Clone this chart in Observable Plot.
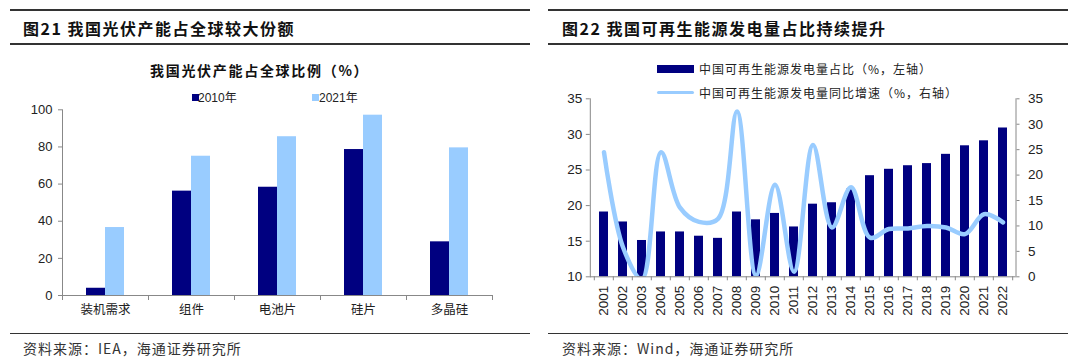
<!DOCTYPE html>
<html><head><meta charset="utf-8">
<script src="https://cdn.jsdelivr.net/npm/d3@7"></script>
<script src="https://cdn.jsdelivr.net/npm/@observablehq/plot@0.6"></script>
<style>
html,body{margin:0;padding:0;background:#fff;}
#root{position:relative;width:1080px;height:364px;overflow:hidden;background:#fff;font-family:"Noto Sans CJK SC","Liberation Sans",sans-serif;color:#222;}
.a{position:absolute;white-space:nowrap;line-height:1;}
.rule{position:absolute;height:1.5px;background:#333;}
.ttl{font-size:16px;font-weight:bold;letter-spacing:1.5px;color:#111;}
.sub{font-size:14px;font-weight:bold;letter-spacing:1.7px;color:#111;}
.src{font-size:14px;letter-spacing:1px;color:#333;}
.lg{font-size:12px;color:#222;}
.box{position:absolute;}
</style></head><body><div id="root"></div>
<script>
// ---- Left chart data ----
const categories = ["装机需求", "组件", "电池片", "硅片", "多晶硅"];
const seriesNames = ["2010年", "2021年"];
const share2010 = [3.9, 56.2, 58.3, 78.6, 28.9];
const share2021 = [36.6, 75.0, 85.5, 97.1, 79.5];
const leftTicks = [0, 20, 40, 60, 80, 100];

// ---- Right chart data ----
const years = ["2001","2002","2003","2004","2005","2006","2007","2008","2009","2010","2011",
               "2012","2013","2014","2015","2016","2017","2018","2019","2020","2021","2022"];
const renewShare = [19.1, 17.7, 15.1, 16.3, 16.3, 15.7, 15.4, 19.1, 18.0, 18.9, 17.0,
                    20.2, 20.4, 22.3, 24.2, 25.1, 25.6, 25.9, 27.2, 28.4, 29.1, 30.9];
const renewGrowth = [24.5, 5.8, -0.5, 24.5, 13.6, 10.8, 11.4, 32.5, 0.3, 18.1, 1.0,
                     25.9, 9.7, 17.6, 7.7, 9.4, 9.5, 10.0, 9.7, 8.4, 12.3, 10.7];
const shareTicks = [10, 15, 20, 25, 30, 35];
const growthTicks = [0, 5, 10, 15, 20, 25, 30, 35];

const NAVY = "#000080", LIGHT = "#99CCFF", AXIS = "#888";
const root = document.getElementById("root");

function add(html, cls, left, top, extra) {
  const d = document.createElement("div");
  d.className = cls;
  d.style.left = left + "px";
  d.style.top = top + "px";
  if (extra) Object.assign(d.style, extra);
  d.innerHTML = html;
  root.appendChild(d);
  return d;
}

// ---- Left panel HTML texts ----
add("", "rule", 10, 9, {width: "520px"});
add("图21 我国光伏产能占全球较大份额", "a ttl", 23, 20);
add("", "rule", 10, 43, {width: "520px"});
add("我国光伏产能占全球比例（%）", "a sub", 150, 63);
add("", "box", 191.7, 94.3, {width: "7px", height: "7px", background: NAVY});
add("2010年", "a lg", 198, 91.7, {fontFamily: "Liberation Sans, Noto Sans CJK SC"});
add("", "box", 311.7, 94.3, {width: "7px", height: "7px", background: LIGHT});
add("2021年", "a lg", 319, 91.7, {fontFamily: "Liberation Sans, Noto Sans CJK SC"});
add("", "rule", 10, 332.5, {width: "520px"});
add("资料来源：IEA，海通证券研究所", "a src", 23, 341);

// ---- Right panel HTML texts ----
add("", "rule", 548, 9, {width: "520px"});
add("图22 我国可再生能源发电量占比持续提升", "a ttl", 562, 20);
add("", "rule", 548, 43, {width: "520px"});
add("", "box", 656.7, 65, {width: "37.6px", height: "7.7px", background: NAVY});
add("中国可再生能源发电量占比（%，左轴）", "a lg", 699, 62.5, {letterSpacing: "1px"});
add("", "box", 656.7, 90.7, {width: "37.6px", height: "3.6px", background: LIGHT, borderRadius: "2px"});
add("中国可再生能源发电量同比增速（%，右轴）", "a lg", 699, 86.5, {letterSpacing: "1px"});
add("", "rule", 548, 332.5, {width: "520px"});
add("资料来源：Wind，海通证券研究所", "a src", 562, 341);

const baseStyle = {fontFamily: "Liberation Sans, Noto Sans CJK SC", fontSize: "13px", color: "#222", background: "transparent", overflow: "visible"};

// ---- Left plot ----
const rows = categories.flatMap((c, i) => [
  {cat: c, series: seriesNames[0], value: share2010[i]},
  {cat: c, series: seriesNames[1], value: share2021[i]}
]);
const W1 = 540, H1 = 230, mt1 = 9.3, mb1 = 35, ml1 = 60, mr1 = 47;
const fh1 = H1 - mt1 - mb1;
const p1 = Plot.plot({
  width: W1, height: H1, marginTop: mt1, marginBottom: mb1, marginLeft: ml1, marginRight: mr1,
  style: baseStyle,
  fx: {domain: categories, padding: 0},
  x: {domain: seriesNames, paddingInner: 0, paddingOuter: 1.165, axis: null},
  y: {domain: [0, 100], axis: null},
  color: {domain: seriesNames, range: [NAVY, LIGHT]},
  marks: [
    Plot.barY(rows, {fx: "cat", x: "series", y: "value", fill: "series"}),
    Plot.ruleY([0], {stroke: AXIS}),
    Plot.frame({anchor: "left", stroke: AXIS, insetTop: fh1, insetBottom: -4}),
    Plot.frame({anchor: "right", stroke: AXIS, insetTop: fh1, insetBottom: -4}),
    Plot.frame({anchor: "left", stroke: AXIS, facetAnchor: "left"}),
    Plot.axisY({ticks: leftTicks, tickSize: 4, tickPadding: 6, stroke: AXIS, fill: "#222", fontSize: 13, label: null}),
    Plot.axisFx({anchor: "bottom", tickSize: 0, tickPadding: 10, label: null, fontFamily: "Noto Sans CJK SC", fontSize: 12.5, fill: "#222"})
  ]
});
const b1 = add("", "box", 0, 100);
b1.appendChild(p1);

// ---- Right plot ----
const W2 = 540, H2 = 240, mt2 = 8.3, mb2 = 53.7, ml2 = 49.8, mr2 = 64.5;
const fh2 = H2 - mt2 - mb2;
const step2 = (W2 - ml2 - mr2) / years.length;
const toLeft = g => 10 + g * 25 / 35;
const p2 = Plot.plot({
  width: W2, height: H2, marginTop: mt2, marginBottom: mb2, marginLeft: ml2, marginRight: mr2,
  style: baseStyle,
  x: {domain: years, paddingInner: 0.535, paddingOuter: 0.2675},
  y: {domain: [10, 35]},
  marks: [
    Plot.barY(years, {x: d => d, y1: 10, y2: (d, i) => renewShare[i], fill: NAVY}),
    Plot.line(years, {x: d => d, y: (d, i) => toLeft(renewGrowth[i]), curve: "catmull-rom",
      stroke: LIGHT, strokeWidth: 4.5, strokeLinecap: "round", strokeLinejoin: "round", clip: true}),
    Plot.ruleY([10], {stroke: AXIS}),
    Plot.frame({anchor: "left", stroke: AXIS}),
    Plot.frame({anchor: "right", stroke: AXIS}),
    Plot.tickX(years, {x: d => d, dx: -step2 / 2, insetTop: fh2, insetBottom: -4, stroke: AXIS}),
    Plot.tickX([years[years.length - 1]], {x: d => d, dx: step2 / 2, insetTop: fh2, insetBottom: -4, stroke: AXIS}),
    Plot.axisY({ticks: shareTicks, anchor: "left", tickSize: 4, tickPadding: 4, stroke: AXIS, fill: "#222", fontSize: 13.5, label: null}),
    Plot.axisY({ticks: growthTicks.map(toLeft), anchor: "right", tickFormat: d => String(Math.round((d - 10) * 35 / 25)),
      tickSize: 3, tickPadding: 9, stroke: AXIS, fill: "#222", fontSize: 13.5, label: null}),
    Plot.axisX({anchor: "bottom", tickRotate: -90, tickSize: 0, tickPadding: 9, label: null, fill: "#222", fontSize: 13.5})
  ]
});
const b2 = add("", "box", 540, 90);
b2.appendChild(p2);
</script>
</body></html>
